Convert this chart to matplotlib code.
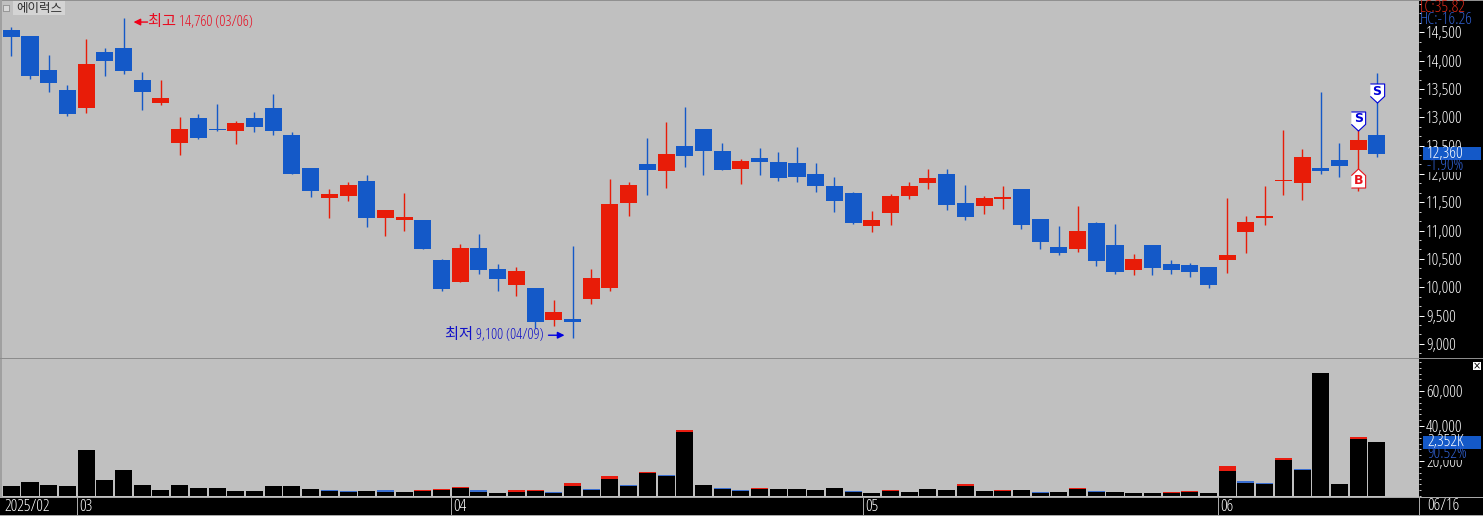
import matplotlib
matplotlib.use("Agg")
import matplotlib.pyplot as plt
import numpy as np
from matplotlib.patches import Rectangle
from matplotlib.ticker import FixedLocator, MultipleLocator, StrMethodFormatter
from matplotlib.transforms import blended_transform_factory, offset_copy

plt.rcParams['font.family'] = ['Open Sans', 'Noto Sans CJK KR', 'DejaVu Sans']
plt.rcParams['font.stretch'] = 'condensed'

W, H = 1483, 516

opens = [14540,14440,13840,13480,13170,14150,14220,13660,13260,12550,12990,12790,12750,12990,13160,
         12690,12100,11580,11610,11880,11220,11190,11190,10480,10090,10690,10320,10040,9990,9420,
         9440,9790,9990,11490,12180,12050,12490,12790,12410,12090,12280,12210,12190,12000,11790,
         11660,11080,11310,11610,11840,12000,11490,11430,11560,11730,11200,10710,10680,11130,10750,
         10300,10750,10410,10390,10360,10480,10980,11220,11880,11840,12100,12250,12420,12690]
highs = [14590,14440,14100,13570,14390,14220,14760,13800,13650,13000,13060,13230,12930,13090,13410,
         12740,12100,11730,11850,11980,11360,11660,11190,10500,10760,10940,10410,10360,9990,9780,
         10730,10320,11910,11860,12630,12920,13190,12790,12550,12260,12460,12390,12480,12190,11950,
         11680,11350,11650,11860,12090,12090,11800,11610,11790,11730,11200,11080,11430,11150,11120,
         10590,10750,10480,10430,10360,11570,11260,11790,12770,12440,13450,12550,12770,13780]
lows = [14090,13680,13450,13030,13070,13730,13760,13130,13220,12330,12610,12760,12530,12740,12690,
        12000,11600,11220,11520,11070,10900,10990,10680,9930,10090,10230,9930,9850,9280,9320,
        9100,9700,9930,11260,11630,11750,12120,11980,12070,11820,11980,11880,11860,11680,11330,
        11120,10980,11100,11560,11730,11360,11190,11290,11380,11030,10680,10570,10620,10370,10230,
        10220,10220,10230,10180,9990,10250,10610,11100,11630,11540,12000,11950,11700,12300]
closes = [14420,13730,13610,13060,13940,14000,13820,13450,13340,12790,12640,12780,12900,12830,12760,
          12000,11690,11650,11800,11220,11360,11240,10680,9970,10690,10310,10150,10290,9390,9560,
          9390,10160,11470,11800,12070,12350,12320,12410,12070,12230,12210,11930,11950,11790,11520,
          11130,11190,11610,11790,11930,11450,11240,11580,11590,11100,10800,10610,10990,10460,10270,
          10500,10340,10300,10270,10040,10570,11150,11260,11890,12300,12050,12140,12600,12360]

# black part of the volume bar, and the thin cap on top (+ red, - blue)
volumes = [5710,8000,6290,5710,26290,9140,14860,6290,3430,6290,4570,4570,2860,2860,5710,
           5710,4000,2860,2460,2860,2460,2290,2860,3600,4740,2460,1710,2460,2860,1710,
           5710,3430,9540,5710,13140,11430,36570,6290,4000,2860,3830,4000,4000,3430,4570,
           2460,1710,2860,2290,4000,3430,5890,2860,2860,3430,1710,2290,4000,2290,2290,
           1710,1710,1710,2460,1710,14290,7600,7030,20570,14860,70460,6860,32570,30860]
caps = [0,0,0,0,0,0,0,0,0,0,0,0,0,0,0,
        0,0,-600,-600,0,-800,0,600,600,600,-740,0,740,600,-600,
        1900,-600,1900,-740,570,-740,1140,0,-570,-600,600,0,0,0,0,
        -600,0,600,0,0,0,970,0,600,0,-600,0,600,-600,0,
        0,0,600,600,0,2860,-970,-570,1140,-740,0,0,1140,0]

price_ticks = [9000,9500,10000,10500,11000,11500,12000,12500,13000,13500,14000,14500]
volume_ticks = [20000,40000,60000]
month_pos = [0,4,24,46,65]
month_labels = ['2025/02','03','04','05','06']

signal_idx = [72,73,72]
signal_price = [12940,13420,11930]
signal_text = ['S','S','B']

RED = '#e81c08'
BLUE = '#1459c8'
PANEL = '#c0c0c0'
AXGREY = '#a8a8a8'
LABEL = 12


def px(x, y):
    return x / W, 1 - y / H


def fig_rect(fig, x0, y0, x1, y1, color, z=2):
    fig.patches.append(Rectangle((x0 / W, 1 - y1 / H), (x1 - x0) / W, (y1 - y0) / H,
                                 transform=fig.transFigure, facecolor=color, edgecolor='none', zorder=z))


def plot_price(fig):
    ax = fig.add_axes([0, 1 - 358 / H, 1419 / W, 358 / H], facecolor=PANEL)
    x = np.arange(len(opens))
    o, h, l, c = map(np.array, (opens, highs, lows, closes))
    colors = [RED if up else BLUE for up in c > o]
    ax.vlines(x, l, h, colors=colors, linewidth=1.0, zorder=2)
    ax.bar(x, np.abs(c - o), bottom=np.minimum(o, c), width=0.91, color=colors, linewidth=0, zorder=3)
    ax.set_xlim(-0.604, 75.25)
    ax.set_ylim(8751, 15070)
    ax.set_xticks([])
    ax.yaxis.tick_right()
    ax.yaxis.set_major_locator(FixedLocator(price_ticks))
    ax.yaxis.set_minor_locator(MultipleLocator(500 / 3))
    ax.yaxis.set_major_formatter(StrMethodFormatter('{x:,.0f}'))
    ax.tick_params(axis='y', which='major', colors='white', length=3.6, width=0.72, pad=1.5, labelsize=LABEL)
    ax.tick_params(axis='y', which='minor', color='#c8c8c8', length=1.6, width=0.72)
    for s in ax.spines.values():
        s.set_visible(False)

    # signal flags
    down = [(-.75, 1), (.75, 1), (.75, -.3), (0, -1), (-.75, -.3)]
    up = [(-.75, -1), (.75, -1), (.75, .3), (0, 1), (-.75, .3)]
    for i, p, t in zip(signal_idx, signal_price, signal_text):
        col = '#0000d8' if t == 'S' else '#e8141c'
        ax.plot(i, p, marker=down if t == 'S' else up, ms=13.7, mfc='white', mec=col, mew=0.8, zorder=5)
        ax.text(i, p + (40 if t == 'S' else -40), t, color=col, ha='center', va='center', zorder=6,
                fontsize=9, fontweight='bold', family=['DejaVu Sans'], stretch='normal')

    # high / low labels
    hi = int(np.argmax(h))
    lo = int(np.argmin(l))
    ax.annotate('', xy=(hi, h[hi]), xycoords=offset_copy(ax.transData, fig=fig, x=10, y=-4.5, units='dots'),
                xytext=(14, 0), textcoords='offset pixels', zorder=6,
                arrowprops=dict(arrowstyle='-|>', color='#f00018', lw=1, shrinkA=0, shrinkB=0))
    ax.annotate('최고 14,760 (03/06)', xy=(hi, h[hi]), xytext=(24, -4.5), textcoords='offset pixels',
                color='#e80c20', fontsize=11, va='center', ha='left')
    ax.annotate('', xy=(lo, l[lo]), xycoords=offset_copy(ax.transData, fig=fig, x=-8, y=3, units='dots'),
                xytext=(-16, 0), textcoords='offset pixels', zorder=6,
                arrowprops=dict(arrowstyle='-|>', color='#0000e0', lw=1, shrinkA=0, shrinkB=0))
    ax.annotate('최저 9,100 (04/09)', xy=(lo, l[lo]), xytext=(-29, 3), textcoords='offset pixels',
                color='#1010c8', fontsize=11, va='center', ha='right')


def plot_volume(fig):
    ax = fig.add_axes([0, 1 - 497 / H, 1419 / W, 138 / H], facecolor=PANEL)
    x = np.arange(len(volumes))
    v = np.array(volumes)
    cap = np.array(caps)
    ax.bar(x, v, width=0.91, color='black', linewidth=0, zorder=3)
    cap_colors = ['#e81c10' if k > 0 else '#3a6ed0' for k in cap]
    ax.bar(x, np.abs(cap), bottom=v, width=0.91, color=cap_colors, linewidth=0, zorder=3)
    ax.set_xlim(-0.604, 75.25)
    ax.set_ylim(-571, 78286)
    ax.yaxis.tick_right()
    ax.yaxis.set_major_locator(FixedLocator(volume_ticks))
    ax.yaxis.set_minor_locator(MultipleLocator(20000 / 6))
    ax.yaxis.set_major_formatter(StrMethodFormatter('{x:,.0f}'))
    ax.tick_params(axis='y', which='major', colors='white', length=3.6, width=0.72, pad=1.5, labelsize=LABEL)
    ax.tick_params(axis='y', which='minor', color='#c8c8c8', length=1.6, width=0.72)
    seps = np.array(month_pos[1:]) - 0.48
    ax.set_xticks(seps, labels=[])
    ax.tick_params(axis='x', color=AXGREY, length=13, width=0.72)
    for s in ax.spines.values():
        s.set_visible(False)
    tr = blended_transform_factory(ax.transData, ax.transAxes)
    for p, t in zip(month_pos, month_labels):
        ax.annotate(t, xy=(p - 0.48, 0), xycoords=tr, xytext=(2, -10), textcoords='offset pixels',
                    color='white', fontsize=LABEL, va='center', ha='left')


def overlays(fig):
    # frame lines
    fig_rect(fig, 0, 0, W, 1, '#909090', 1)
    fig_rect(fig, 0, 0, 2, 497, '#a0a0a0', 1)
    fig_rect(fig, 0, 358, W, 359, '#8c8c8c', 1)
    fig_rect(fig, 0, 497, W, 498, AXGREY, 1)
    fig_rect(fig, 0, 515, W, 516, AXGREY, 1)
    fig_rect(fig, 1419, 497, 1420, 516, AXGREY, 1)

    # name tag
    fig_rect(fig, 13, 1, 65, 15, '#d4d4d4', 1)
    fig_rect(fig, 3, 5, 10, 12, '#989898', 1)
    fig_rect(fig, 4, 6, 9, 11, '#d8d8d8', 1)
    x, y = px(16, 8.5)
    fig.text(x, y, '에이럭스', color='#303030', fontsize=9, family=['Noto Sans CJK KR'], stretch='normal',
             va='center', ha='left', zorder=3)

    # right side readouts
    x, y = px(1420, 8)
    fig.text(x, y, 'LC:35.82', color='#e02818', fontsize=LABEL, va='center', zorder=4)
    x, y = px(1420, 20)
    fig.text(x, y, 'HC:-16.26', color='#3060d0', fontsize=LABEL, va='center', zorder=4)

    fig_rect(fig, 1423, 160, 1481, 172, 'black', 3)
    fig_rect(fig, 1423, 147, 1481, 160, '#1459c8', 3)
    x, y = px(1427, 153.5)
    fig.text(x, y, '12,360', color='white', fontsize=LABEL, va='center', zorder=4)
    x, y = px(1427, 165.5)
    fig.text(x, y, '-1.90%', color='#3060d0', fontsize=LABEL, va='center', zorder=4)

    fig_rect(fig, 1423, 449, 1481, 460, 'black', 3)
    fig_rect(fig, 1423, 436, 1481, 449, '#1459c8', 3)
    x, y = px(1427, 442.5)
    fig.text(x, y, '2,352K', color='white', fontsize=LABEL, va='center', zorder=4)
    x, y = px(1427, 454.5)
    fig.text(x, y, '90.52%', color='#3060d0', fontsize=LABEL, va='center', zorder=4)

    fig_rect(fig, 1473, 362, 1481, 370, 'white', 3)
    x, y = px(1477, 366)
    fig.text(x, y, '×', color='black', fontsize=7, family=['DejaVu Sans'], stretch='normal',
             va='center', ha='center', zorder=4)

    x, y = px(1427, 506)
    fig.text(x, y, '06/16', color='white', fontsize=LABEL, va='center', zorder=4)


def execute():
    fig = plt.figure(figsize=(W / 100, H / 100), dpi=100, facecolor='black')
    plot_price(fig)
    plot_volume(fig)
    overlays(fig)
    fig.savefig('out.png', dpi=100, facecolor='black')


execute()
